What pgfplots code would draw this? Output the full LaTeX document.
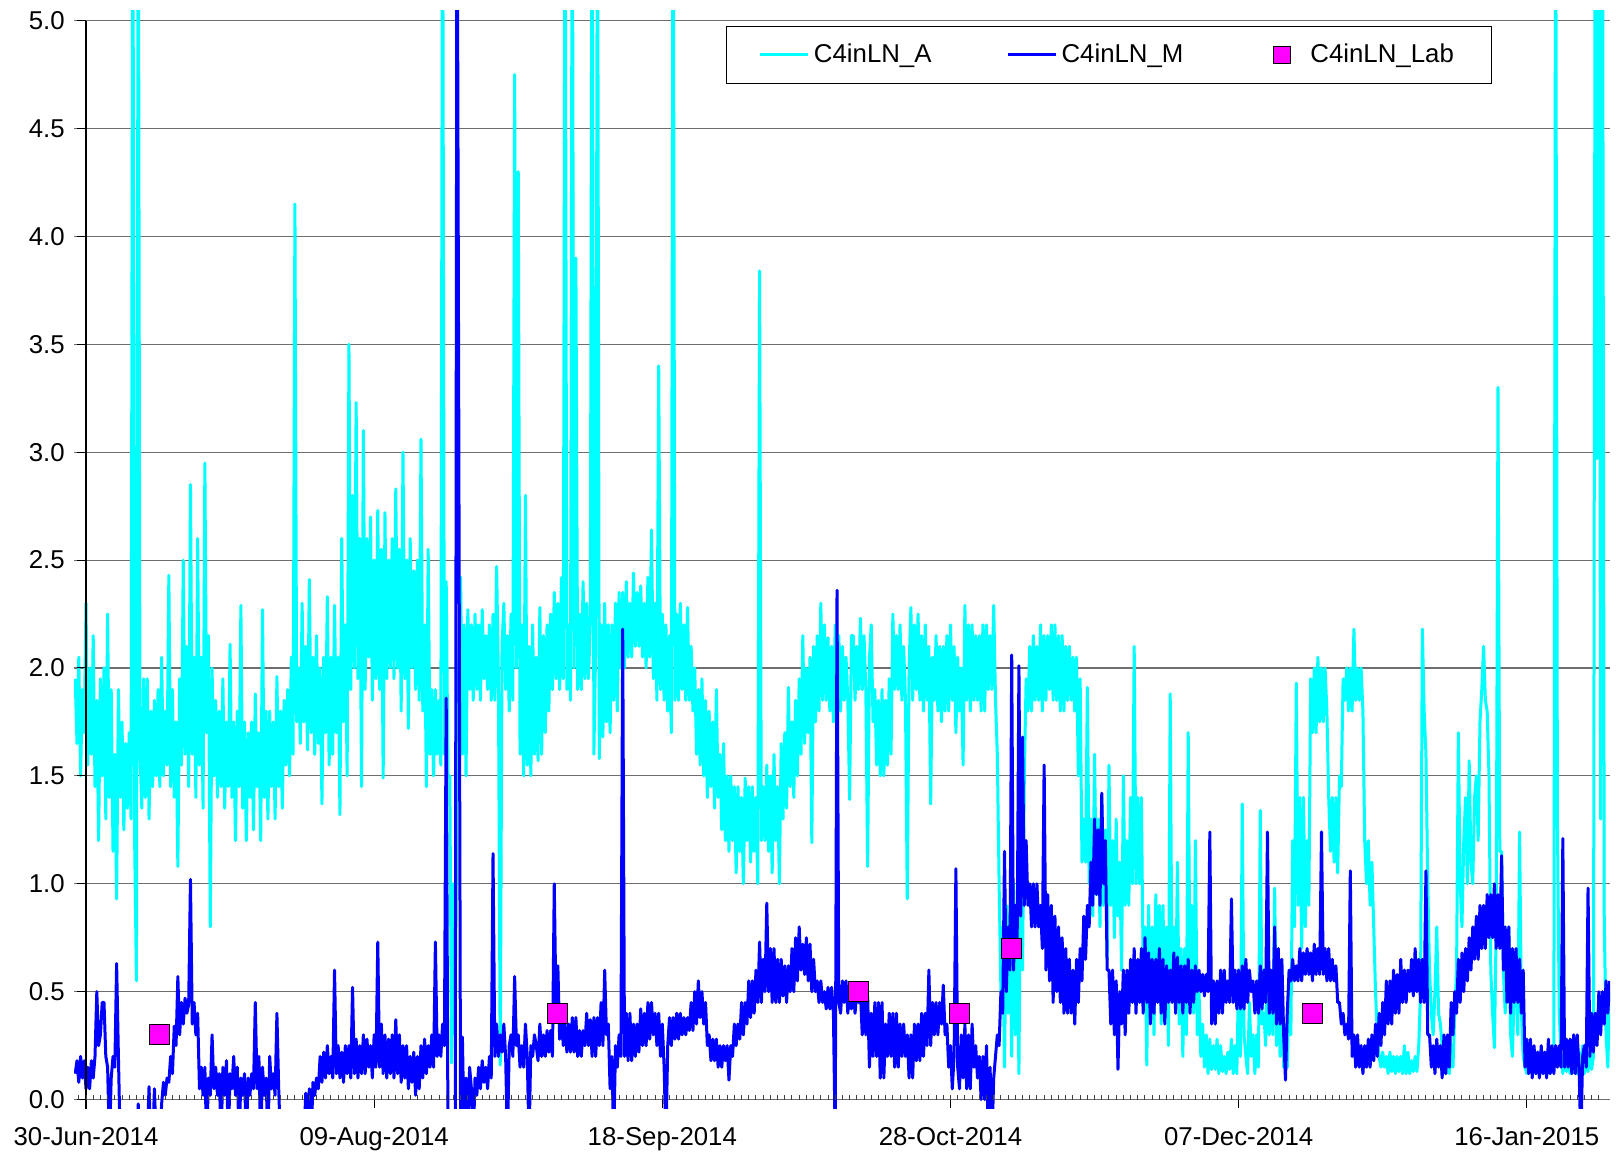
\documentclass[border=0pt]{standalone}
\usepackage{fontspec}
\setmainfont{Liberation Sans}
\usepackage{pgfplots}
\usepackage{pgfplotstable}
\pgfplotsset{compat=1.18}
\definecolor{cA}{RGB}{0,255,255}
\definecolor{cM}{RGB}{0,0,255}
\definecolor{cL}{RGB}{255,0,255}
\definecolor{gridgray}{RGB}{110,110,110}

\pgfplotsset{
  lineimage/.style={legend image code/.code={\draw[##1] (0pt,0pt) -- (24pt,0pt);}},
  labimage/.style={legend image code/.code={\path[draw=none, fill=none] (0pt,-4.25pt) rectangle (24pt,4.25pt);
     \node[draw=black, fill=cL, line width=0.5pt, minimum size=8.5pt, inner sep=0pt] at (12pt,0pt) {};}},
}

% C4inLN_A, one value every quarter day from day -1.5 (day 0 = 30-Jun-2014); each row = 2 days
\pgfplotstableread[row sep=\\]{
y\\
1.95\\1.65\\2.05\\1.50\\1.90\\1.70\\2.30\\1.55\\
2.00\\1.60\\2.15\\1.45\\1.85\\1.20\\1.95\\1.50\\
2.00\\1.30\\2.25\\1.40\\1.90\\1.15\\1.60\\0.93\\
1.90\\1.40\\1.75\\1.25\\1.65\\1.35\\1.70\\1.30\\
6.00\\1.20\\0.55\\6.00\\1.60\\1.35\\1.95\\1.40\\
1.95\\1.30\\1.80\\1.45\\1.85\\1.50\\1.90\\1.45\\
2.05\\1.50\\1.80\\1.55\\2.43\\1.45\\1.90\\1.40\\
1.75\\1.08\\1.95\\1.55\\2.50\\1.60\\2.10\\1.45\\
2.85\\1.60\\2.05\\1.40\\2.60\\1.55\\2.05\\1.35\\
2.95\\1.70\\2.15\\0.80\\2.00\\1.50\\1.85\\1.40\\
1.80\\1.45\\1.95\\1.35\\1.75\\1.45\\2.11\\1.40\\
1.75\\1.20\\1.80\\1.45\\2.29\\1.35\\1.75\\1.20\\
1.70\\1.40\\1.75\\1.25\\1.88\\1.45\\1.70\\1.20\\
2.27\\1.40\\1.80\\1.30\\1.80\\1.45\\1.75\\1.30\\
1.96\\1.45\\1.80\\1.35\\1.85\\1.55\\1.90\\1.50\\
2.05\\1.60\\4.15\\1.75\\2.00\\1.65\\2.30\\1.75\\
2.10\\1.62\\2.41\\1.70\\2.05\\1.60\\2.15\\1.65\\
2.00\\1.37\\2.05\\1.70\\2.33\\1.55\\2.05\\1.60\\
2.29\\1.70\\2.05\\1.32\\2.60\\1.75\\2.20\\1.50\\
3.50\\1.90\\2.80\\2.00\\3.23\\1.95\\2.60\\1.45\\
3.10\\1.90\\2.60\\2.05\\2.70\\1.85\\2.50\\1.95\\
2.73\\1.90\\2.55\\1.49\\2.72\\1.95\\2.50\\2.00\\
2.60\\1.95\\2.83\\2.00\\2.55\\1.80\\3.00\\1.95\\
2.50\\1.72\\2.60\\2.00\\2.45\\1.90\\2.50\\1.85\\
3.06\\1.80\\2.20\\1.45\\2.55\\1.60\\1.90\\1.50\\
1.90\\1.60\\1.85\\1.55\\6.00\\1.60\\2.40\\1.50\\
1.50\\0.17\\1.00\\0.30\\1.50\\2.00\\2.42\\1.60\\
2.20\\1.50\\2.27\\1.90\\2.20\\1.85\\2.25\\1.90\\
2.20\\1.85\\2.27\\1.95\\2.15\\1.90\\2.20\\1.85\\
2.25\\1.85\\2.47\\1.95\\0.16\\2.10\\2.30\\1.90\\
2.15\\1.80\\2.25\\1.85\\4.75\\2.00\\4.30\\1.60\\
2.20\\1.50\\2.80\\1.55\\2.10\\1.50\\2.20\\1.60\\
2.05\\1.57\\2.28\\1.60\\2.15\\1.70\\2.20\\1.80\\
2.25\\1.90\\2.35\\1.95\\2.30\\1.90\\2.42\\1.95\\
6.00\\1.90\\2.20\\1.85\\6.00\\2.00\\3.90\\1.90\\
2.25\\1.90\\2.40\\1.95\\2.30\\1.95\\2.20\\6.00\\
1.60\\2.10\\6.00\\1.58\\2.20\\1.68\\2.30\\1.75\\
2.20\\1.70\\2.20\\1.85\\2.30\\1.80\\2.35\\2.00\\
2.35\\2.00\\2.40\\2.05\\2.30\\2.05\\2.44\\2.10\\
2.35\\2.10\\2.38\\2.05\\2.30\\2.00\\2.42\\2.05\\
2.64\\1.95\\2.30\\1.85\\3.40\\1.90\\2.25\\1.85\\
2.20\\1.80\\2.15\\1.70\\6.00\\1.85\\2.25\\1.85\\
2.30\\1.90\\2.20\\1.85\\2.28\\1.85\\2.10\\1.80\\
2.00\\1.60\\1.90\\1.55\\1.95\\1.50\\1.85\\1.40\\
1.80\\1.45\\1.75\\1.35\\1.90\\1.40\\1.60\\1.25\\
1.65\\1.20\\1.50\\1.15\\1.50\\1.20\\1.45\\1.05\\
1.45\\1.15\\1.40\\1.00\\1.49\\1.20\\1.45\\1.10\\
1.45\\1.15\\1.40\\1.00\\3.84\\1.20\\1.45\\1.20\\
1.55\\1.15\\1.50\\1.05\\1.60\\1.20\\1.45\\1.00\\
1.65\\1.30\\1.70\\1.35\\1.91\\1.45\\1.75\\1.40\\
1.85\\1.50\\1.95\\1.60\\2.15\\1.65\\2.00\\1.70\\
2.05\\1.19\\2.10\\1.75\\2.15\\1.80\\2.30\\1.85\\
2.20\\1.85\\2.14\\1.80\\2.10\\1.75\\2.20\\1.85\\
2.15\\1.80\\2.10\\1.85\\2.05\\1.85\\1.39\\2.15\\
2.15\\1.85\\2.10\\1.90\\2.23\\1.90\\2.15\\1.90\\
1.08\\2.05\\2.20\\1.75\\1.90\\1.55\\1.85\\1.50\\
1.90\\1.50\\1.85\\1.55\\1.95\\1.60\\2.25\\1.90\\
2.15\\1.90\\2.20\\1.85\\2.10\\1.85\\0.93\\2.00\\
2.28\\1.85\\2.20\\1.90\\2.25\\1.85\\2.15\\1.80\\
2.20\\1.85\\2.10\\1.37\\2.05\\1.85\\2.15\\1.80\\
2.10\\1.75\\2.10\\1.80\\2.15\\1.80\\2.20\\1.85\\
2.10\\1.70\\2.05\\1.80\\2.00\\1.55\\2.29\\1.85\\
2.20\\1.80\\2.20\\1.85\\2.15\\1.85\\2.15\\1.80\\
2.20\\1.80\\2.20\\1.90\\2.15\\1.90\\2.29\\1.85\\
1.60\\1.00\\0.50\\0.80\\0.15\\0.90\\0.40\\0.90\\
0.20\\1.00\\0.30\\0.80\\0.12\\1.20\\0.60\\1.50\\
1.95\\1.80\\2.10\\1.80\\2.15\\1.85\\2.10\\1.85\\
2.20\\1.80\\2.15\\1.85\\2.15\\1.90\\2.20\\1.85\\
2.20\\1.85\\2.15\\1.80\\2.15\\1.80\\2.10\\1.85\\
2.10\\1.85\\2.05\\1.80\\2.05\\1.50\\1.95\\1.10\\
1.30\\1.10\\1.91\\1.00\\1.30\\0.85\\1.60\\0.95\\
1.30\\0.80\\1.40\\0.90\\1.25\\0.65\\1.55\\0.90\\
1.20\\0.75\\1.30\\0.85\\1.10\\0.60\\1.50\\0.90\\
1.20\\0.90\\1.40\\1.00\\2.10\\1.00\\1.40\\1.00\\
1.40\\0.60\\0.80\\0.16\\0.90\\0.40\\0.80\\0.30\\
0.95\\0.50\\0.90\\0.35\\0.90\\0.40\\0.80\\0.25\\
1.88\\0.50\\0.80\\0.40\\1.10\\0.35\\0.70\\0.20\\
0.70\\0.30\\1.70\\0.50\\0.90\\0.40\\1.20\\0.30\\
0.50\\0.20\\0.35\\0.15\\0.30\\0.12\\0.28\\0.14\\
0.25\\0.14\\0.28\\0.12\\0.25\\0.13\\0.20\\0.12\\
0.22\\0.14\\0.28\\0.12\\0.25\\0.12\\0.60\\0.20\\
1.37\\0.30\\0.20\\0.12\\0.45\\0.20\\0.30\\0.12\\
0.30\\0.15\\1.34\\0.35\\0.40\\0.25\\0.80\\0.30\\
0.50\\0.30\\0.98\\0.25\\0.50\\0.20\\0.60\\0.15\\
0.35\\0.15\\0.50\\0.30\\1.20\\0.80\\1.93\\0.90\\
1.40\\0.70\\1.40\\0.80\\1.20\\0.90\\1.95\\1.70\\
2.00\\1.70\\2.05\\1.75\\2.00\\1.75\\2.00\\1.80\\
1.40\\1.15\\1.40\\1.10\\1.40\\1.05\\1.50\\1.45\\
1.95\\1.85\\2.00\\1.80\\2.00\\1.80\\2.18\\1.85\\
2.00\\1.85\\2.00\\1.80\\1.20\\1.00\\1.20\\0.90\\
1.10\\0.80\\0.50\\0.30\\0.20\\0.15\\0.22\\0.15\\
0.20\\0.12\\0.22\\0.13\\0.20\\0.12\\0.20\\0.13\\
0.20\\0.12\\0.25\\0.12\\0.22\\0.12\\0.18\\0.13\\
0.20\\0.13\\0.25\\0.50\\2.18\\1.80\\1.60\\1.00\\
0.60\\0.40\\0.30\\0.50\\0.80\\0.40\\0.35\\0.25\\
0.20\\0.12\\0.25\\0.12\\0.25\\0.15\\0.40\\0.60\\
1.70\\1.00\\0.80\\1.20\\1.40\\1.00\\1.57\\1.10\\
1.00\\1.40\\1.50\\1.20\\1.75\\1.90\\2.10\\1.85\\
1.80\\1.50\\0.60\\0.40\\0.24\\0.80\\3.30\\1.15\\
1.15\\0.60\\0.40\\0.70\\0.80\\0.30\\0.20\\0.50\\
0.60\\0.30\\1.24\\0.40\\0.20\\0.15\\0.12\\0.20\\
0.25\\0.13\\0.20\\0.12\\0.22\\0.13\\0.20\\0.12\\
0.22\\0.13\\0.20\\0.12\\0.20\\0.13\\6.00\\1.29\\
0.40\\0.20\\0.12\\0.22\\0.13\\0.20\\0.12\\0.22\\
0.13\\0.20\\0.12\\0.22\\0.13\\0.25\\0.12\\0.22\\
0.13\\0.22\\0.14\\0.20\\6.00\\2.97\\6.00\\1.30\\
6.00\\0.83\\0.30\\0.15\\0.50\\
}\seriesA

% C4inLN_M, one value every quarter day from day -1.5; each row = 2 days
\pgfplotstableread[row sep=\\]{
y\\
0.12\\0.18\\0.08\\0.20\\0.10\\0.18\\0.05\\0.15\\
0.05\\0.18\\0.10\\0.20\\0.50\\0.25\\0.30\\0.45\\
0.45\\0.20\\0.15\\-0.2\\0.10\\0.20\\0.15\\0.63\\
0.20\\-0.2\\-0.2\\-0.2\\-0.2\\-0.2\\-0.2\\-0.2\\
-0.2\\-0.2\\-0.2\\-0.02\\-0.2\\-0.2\\-0.2\\-0.2\\
-0.2\\0.06\\-0.2\\-0.2\\0.05\\-0.2\\-0.2\\-0.2\\
-0.02\\0.08\\0.02\\0.10\\0.08\\0.20\\0.12\\0.34\\
0.25\\0.57\\0.30\\0.45\\0.35\\0.47\\0.40\\0.44\\
1.02\\0.35\\0.45\\0.30\\0.40\\0.05\\0.15\\0.02\\
0.15\\-0.2\\0.10\\0.02\\0.30\\0.05\\0.15\\0.02\\
0.12\\-0.2\\0.15\\0.02\\0.18\\-0.2\\0.12\\0.05\\
0.20\\0.02\\0.15\\-0.2\\0.10\\0.02\\0.12\\-0.2\\
0.10\\0.02\\0.12\\0.05\\0.45\\0.05\\0.20\\-0.2\\
0.15\\0.02\\0.10\\-0.2\\0.20\\0.05\\0.12\\0.02\\
0.40\\0.05\\-0.2\\-0.2\\-0.2\\-0.2\\-0.2\\-0.2\\
-0.2\\-0.2\\-0.2\\-0.2\\-0.2\\-0.2\\-0.2\\-0.2\\
0.03\\-0.2\\0.05\\-0.2\\0.08\\0.02\\0.10\\0.05\\
0.20\\0.08\\0.22\\0.10\\0.25\\0.12\\0.20\\0.10\\
0.60\\0.12\\0.25\\0.10\\0.22\\0.08\\0.25\\0.12\\
0.25\\0.10\\0.52\\0.12\\0.28\\0.10\\0.25\\0.12\\
0.30\\0.12\\0.28\\0.15\\0.25\\0.10\\0.30\\0.15\\
0.73\\0.15\\0.35\\0.12\\0.30\\0.10\\0.28\\0.12\\
0.30\\0.10\\0.37\\0.12\\0.30\\0.08\\0.25\\0.10\\
0.25\\0.05\\0.20\\0.08\\0.22\\0.02\\0.20\\0.05\\
0.25\\0.10\\0.28\\0.12\\0.25\\0.15\\0.30\\0.15\\
0.73\\0.20\\0.30\\0.20\\0.35\\0.25\\1.86\\-0.2\\
-0.2\\-0.2\\-0.2\\-0.2\\6.00\\3.10\\-0.2\\0.29\\
-0.2\\0.10\\-0.2\\0.15\\0.05\\-0.2\\0.10\\0.02\\
0.15\\0.05\\0.18\\0.08\\0.15\\0.05\\0.20\\0.10\\
1.14\\0.20\\0.35\\0.20\\0.30\\0.22\\0.35\\0.20\\
-0.2\\0.25\\0.30\\0.20\\0.57\\0.25\\0.30\\0.15\\
0.25\\0.15\\0.35\\0.20\\-0.2\\0.25\\0.20\\0.30\\
0.25\\0.18\\0.35\\0.20\\0.30\\0.20\\0.32\\0.22\\
0.32\\0.20\\1.00\\0.40\\0.62\\0.28\\0.40\\0.25\\
0.35\\0.22\\0.35\\0.22\\0.38\\0.22\\0.38\\0.20\\
0.32\\0.20\\0.32\\0.25\\0.40\\0.25\\0.37\\0.20\\
0.38\\0.20\\0.38\\0.25\\0.45\\0.25\\0.60\\0.30\\
0.35\\0.05\\0.20\\-0.2\\0.25\\0.15\\0.30\\0.20\\
2.18\\0.20\\0.40\\0.18\\0.40\\0.18\\0.35\\0.20\\
0.35\\0.22\\0.42\\0.25\\0.40\\0.25\\0.45\\0.28\\
0.45\\0.30\\0.40\\0.25\\0.40\\0.20\\0.35\\0.15\\
-0.2\\0.25\\0.38\\0.25\\0.38\\0.28\\0.40\\0.28\\
0.40\\0.30\\0.38\\0.30\\0.38\\0.32\\0.45\\0.32\\
0.50\\0.35\\0.55\\0.38\\0.50\\0.35\\0.45\\0.25\\
0.30\\0.18\\0.28\\0.18\\0.28\\0.15\\0.25\\0.15\\
0.25\\0.18\\0.25\\0.09\\0.25\\0.20\\0.35\\0.25\\
0.35\\0.28\\0.45\\0.30\\0.45\\0.35\\0.55\\0.38\\
0.55\\0.40\\0.60\\0.45\\0.73\\0.45\\0.65\\0.50\\
0.91\\0.50\\0.70\\0.45\\0.70\\0.45\\0.65\\0.45\\
0.65\\0.48\\0.62\\0.45\\0.62\\0.50\\0.70\\0.50\\
0.75\\0.55\\0.80\\0.60\\0.72\\0.58\\0.75\\0.55\\
0.72\\0.50\\0.65\\0.50\\0.55\\0.45\\0.55\\0.45\\
0.50\\0.42\\0.52\\0.42\\0.52\\0.40\\-0.2\\2.36\\
0.45\\0.40\\0.55\\0.45\\0.55\\0.40\\0.52\\0.42\\
0.52\\0.40\\0.50\\0.45\\0.50\\0.30\\0.48\\0.30\\
0.48\\0.15\\0.40\\0.20\\0.45\\0.20\\0.45\\0.10\\
0.45\\0.10\\0.35\\0.20\\0.40\\0.20\\0.40\\0.15\\
0.40\\0.15\\0.35\\0.20\\0.35\\0.20\\0.30\\0.10\\
0.30\\0.10\\0.35\\0.18\\0.35\\0.18\\0.40\\0.20\\
0.40\\0.25\\0.60\\0.25\\0.45\\0.30\\0.45\\0.30\\
0.45\\0.35\\0.53\\0.30\\0.35\\0.15\\0.25\\0.05\\
0.20\\1.07\\0.15\\0.05\\0.30\\0.10\\0.35\\0.05\\
0.30\\0.05\\0.35\\0.15\\0.25\\0.10\\0.20\\0.00\\
0.20\\0.00\\0.25\\-0.2\\0.15\\-0.2\\0.10\\0.20\\
0.30\\0.25\\0.50\\0.40\\1.15\\0.50\\0.80\\0.60\\
2.06\\0.60\\0.90\\0.70\\2.01\\0.85\\1.68\\0.90\\
1.20\\0.90\\1.00\\0.80\\1.00\\0.80\\1.00\\0.80\\
0.90\\0.70\\1.55\\0.60\\0.95\\0.55\\0.90\\0.45\\
0.85\\0.50\\0.80\\0.45\\0.75\\0.40\\0.70\\0.40\\
0.65\\0.40\\0.60\\0.35\\0.65\\0.45\\0.70\\0.55\\
0.85\\0.65\\0.90\\0.80\\1.10\\0.90\\1.30\\0.95\\
1.25\\0.90\\1.42\\1.00\\1.20\\0.60\\0.60\\0.35\\
0.60\\0.30\\0.55\\0.14\\0.50\\0.35\\0.60\\0.30\\
0.60\\0.40\\0.65\\0.45\\0.70\\0.40\\0.65\\0.45\\
0.70\\0.40\\0.75\\0.45\\0.68\\0.35\\0.65\\0.40\\
0.65\\0.45\\0.70\\0.40\\0.65\\0.35\\0.62\\0.45\\
0.60\\0.45\\0.68\\0.40\\0.66\\0.45\\0.62\\0.40\\
0.62\\0.45\\0.65\\0.40\\0.60\\0.45\\0.62\\0.50\\
0.60\\0.50\\0.58\\0.48\\0.58\\0.50\\1.24\\0.35\\
0.55\\0.35\\0.55\\0.40\\0.60\\0.40\\0.60\\0.45\\
0.55\\0.45\\0.93\\0.45\\0.60\\0.42\\0.60\\0.42\\
0.62\\0.42\\0.65\\0.45\\0.60\\0.50\\0.55\\0.40\\
0.55\\0.40\\0.62\\0.42\\0.60\\0.45\\1.24\\0.40\\
0.60\\0.40\\0.80\\0.35\\0.70\\0.35\\0.65\\0.30\\
0.09\\0.40\\0.60\\0.55\\0.65\\0.55\\0.62\\0.55\\
0.70\\0.55\\0.68\\0.58\\0.70\\0.58\\0.68\\0.55\\
0.72\\0.58\\0.70\\0.58\\1.24\\0.58\\0.70\\0.55\\
0.70\\0.55\\0.65\\0.55\\0.62\\0.45\\0.45\\0.35\\
0.40\\0.30\\0.35\\0.28\\1.06\\0.20\\0.30\\0.15\\
0.30\\0.15\\0.25\\0.12\\0.25\\0.15\\0.28\\0.15\\
0.30\\0.18\\0.35\\0.20\\0.40\\0.25\\0.45\\0.30\\
0.55\\0.35\\0.55\\0.35\\0.60\\0.40\\0.58\\0.40\\
0.65\\0.45\\0.60\\0.45\\0.60\\0.50\\0.65\\0.48\\
0.70\\0.50\\0.65\\0.45\\0.65\\0.45\\1.06\\0.30\\
0.30\\0.15\\0.25\\0.12\\0.28\\0.15\\0.25\\0.10\\
0.30\\0.12\\0.30\\0.15\\0.45\\0.30\\0.50\\0.40\\
0.65\\0.45\\0.68\\0.50\\0.70\\0.55\\0.75\\0.60\\
0.80\\0.65\\0.85\\0.65\\0.90\\0.70\\0.90\\0.70\\
0.95\\0.75\\0.95\\0.75\\1.00\\0.70\\0.95\\0.70\\
1.13\\0.60\\0.80\\0.45\\0.80\\0.40\\0.70\\0.45\\
0.70\\0.45\\0.65\\0.40\\0.60\\0.15\\0.28\\0.12\\
0.28\\0.10\\0.25\\0.12\\0.22\\0.10\\0.25\\0.12\\
0.22\\0.10\\0.28\\0.12\\0.25\\0.12\\0.25\\0.15\\
0.25\\0.15\\1.21\\0.15\\0.28\\0.15\\0.28\\0.12\\
0.30\\0.12\\0.30\\0.15\\-0.2\\0.20\\0.25\\0.15\\
0.98\\0.20\\0.40\\0.22\\0.40\\0.25\\0.50\\0.30\\
0.50\\0.35\\0.55\\0.40\\0.55\\
}\seriesM

\newcommand\tlfont{\fontsize{12.9}{15.5}\selectfont}

\begin{document}
\begin{tikzpicture}
\begin{axis}[
  at={(0pt,0pt)}, anchor=south west,
  scale only axis, width=768pt, height=549.2pt,
  xmin=-1.666, xmax=211.55, ymin=-0.0436, ymax=5.046,
  axis line style={draw=none},
  tick style={draw=none},
  xtick={0,40,80,120,160,200},
  xticklabels={30-Jun-2014,09-Aug-2014,18-Sep-2014,28-Oct-2014,07-Dec-2014,16-Jan-2015},
  ytick={0,0.5,1,1.5,2,2.5,3,3.5,4,4.5,5},
  yticklabel style={/pgf/number format/fixed, /pgf/number format/fixed zerofill,
    /pgf/number format/precision=1, /pgf/number format/assume math mode=true, xshift=-1.15pt},
  tick label style={font=\tlfont},
  xticklabel style={yshift=-5.6pt},
  ymajorgrids,
  grid style={gridgray, line width=0.55pt},
  legend columns=3,
  lineimage,
  legend style={at={(0.4242,0.9862)}, anchor=north west, draw=black, fill=white,
    font=\tlfont, inner xsep=16.5pt, inner ysep=6.9pt,
    nodes={inner sep=2pt, text depth=0.15em},
    /tikz/every even column/.append style={column sep=35.5pt}},
]
\addplot[cA, line width=1.5pt, line join=round] table[x expr=\coordindex*0.25-1.5, y=y] {\seriesA};
\addlegendentry{C4inLN\_A}
\addplot[cM, line width=1.5pt, line join=round] table[x expr=\coordindex*0.25-1.5, y=y] {\seriesM};
\addlegendentry{C4inLN\_M}
\addplot[only marks, mark=square*, mark size=5pt, mark options={fill=cL, draw=black, line width=0.5pt}, labimage]
  coordinates {(10.2,0.3) (65.4,0.4) (107.2,0.5) (121.2,0.4) (128.4,0.7) (170.3,0.4)};
\addlegendentry{C4inLN\_Lab}
% axis decorations
\draw[black, line width=0.6pt] (axis cs:0,-0.0436) -- (axis cs:0,5);
\pgfplotsinvokeforeach{0,0.5,1,1.5,2,2.5,3,3.5,4,4.5,5}{\draw[black, line width=0.5pt] (axis cs:0,#1) -- ++(-4.5pt,0pt);}
\pgfplotsinvokeforeach{-1,...,210}{\draw[black!75, line width=0.5pt] (axis cs:#1,0) -- ++(0pt,2.5pt);}
\pgfplotsinvokeforeach{0,40,80,120,160,200}{\draw[black, line width=0.6pt] (axis cs:#1,0) -- ++(0pt,-4pt);}
\end{axis}
\pgfresetboundingbox
\path[use as bounding box] (-37pt,-23.5pt) rectangle (771pt,554.5pt);
\end{tikzpicture}
\end{document}
